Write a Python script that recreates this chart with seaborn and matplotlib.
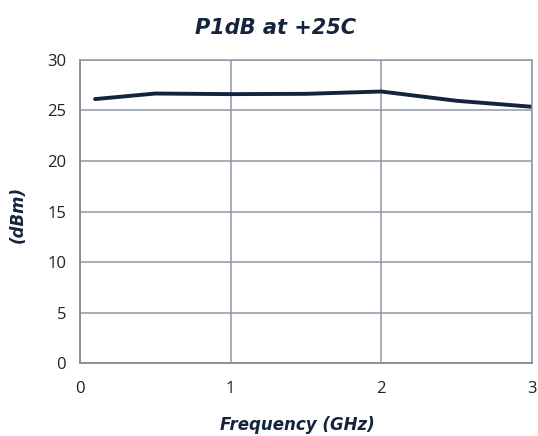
import pandas as pd
import matplotlib.pyplot as plt
import seaborn as sns

# P1dB vs frequency
freq_ghz = [0.1, 0.5, 1.0, 1.5, 2.0, 2.5, 3.0]
p1db_dbm = [26.13, 26.68, 26.62, 26.65, 26.88, 25.96, 25.37]

df = pd.DataFrame({'Frequency': freq_ghz, 'P1dB': p1db_dbm})

sns.set_style("white")
plt.rcParams['font.family'] = ['Open Sans', 'DejaVu Sans']

navy = '#14243d'
grid_col = '#8d97a6'

fig = plt.figure(figsize=(5.38, 4.36), dpi=100)
ax = fig.add_axes([0.1487, 0.1674, 0.8401, 0.695])

sns.lineplot(data=df, x='Frequency', y='P1dB', color=navy, linewidth=2.8, ax=ax)

ax.set_xlim(0, 3)
ax.set_ylim(0, 30)
ax.set_xticks([0, 1, 2, 3])
ax.set_yticks(range(0, 31, 5))
ax.grid(True, color=grid_col, linewidth=1.1)

for side in ['top', 'right']:
    ax.spines[side].set_color(grid_col)
    ax.spines[side].set_linewidth(1.1)
for side in ['left', 'bottom']:
    ax.spines[side].set_color('#8a8a8a')
    ax.spines[side].set_linewidth(1.3)

ax.tick_params(axis='both', which='major', direction='out', length=5, width=1.2,
               color='#8a8a8a', labelsize=12, labelcolor='#222222', pad=5)
ax.tick_params(axis='x', pad=8)

# title sits centred on the figure rather than the axes
fig.text(0.513, 0.936, "P1dB at +25C", ha='center', va='center', fontsize=15,
         fontweight='bold', style='italic', color=navy, family=['DejaVu Sans'])
ax.set_xlabel("Frequency (GHz)", fontsize=12, fontweight='bold', style='italic',
              color=navy, family=['DejaVu Sans'], va='center')
ax.xaxis.set_label_coords(0.48, -0.205)
ax.set_ylabel("(dBm)", fontsize=12, fontweight='bold', style='italic',
              color=navy, family=['DejaVu Sans'], va='center')
ax.yaxis.set_label_coords(-0.137, 0.49)

fig.savefig("out.png", dpi=100)
